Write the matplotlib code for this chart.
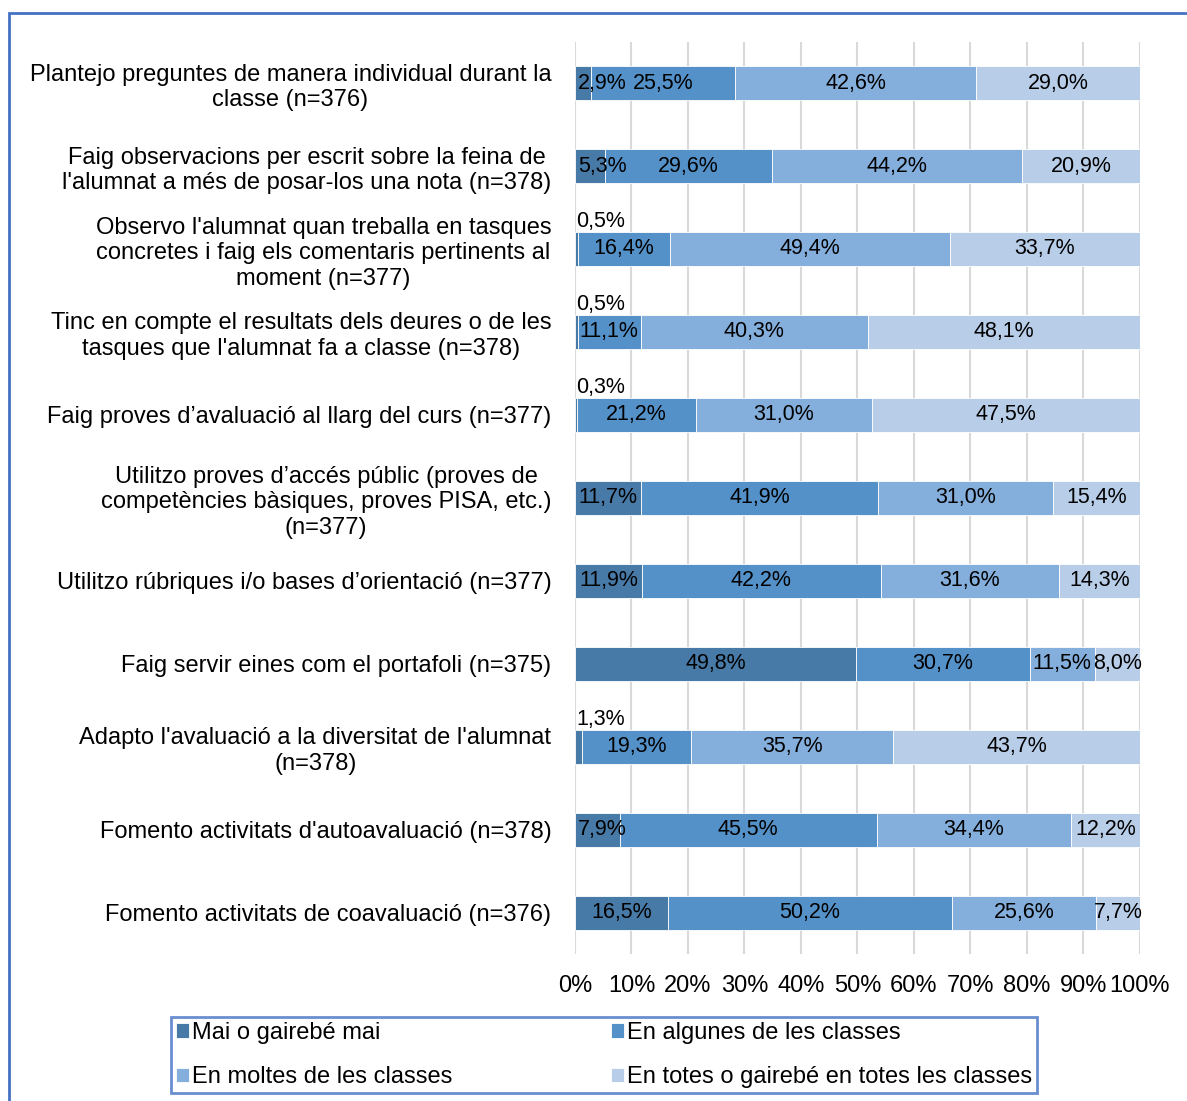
import matplotlib.pyplot as plt
from matplotlib.patches import Rectangle
import numpy as np

plt.rcParams['font.family'] = ['Liberation Sans', 'DejaVu Sans']

# categories (top to bottom)
labels = [
    "Plantejo preguntes de manera individual durant la\nclasse (n=376)",
    "Faig observacions per escrit sobre la feina de\nl'alumnat a més de posar-los una nota (n=378)",
    "Observo l'alumnat quan treballa en tasques\nconcretes i faig els comentaris pertinents al\nmoment (n=377)",
    "Tinc en compte el resultats dels deures o de les\ntasques que l'alumnat fa a classe (n=378)",
    "Faig proves d’avaluació al llarg del curs (n=377)",
    "Utilitzo proves d’accés públic (proves de\ncompetències bàsiques, proves PISA, etc.)\n(n=377)",
    "Utilitzo rúbriques i/o bases d’orientació (n=377)",
    "Faig servir eines com el portafoli (n=375)",
    "Adapto l'avaluació a la diversitat de l'alumnat\n(n=378)",
    "Fomento activitats d'autoavaluació (n=378)",
    "Fomento activitats de coavaluació (n=376)",
]

series_names = ["Mai o gairebé mai", "En algunes de les classes",
                "En moltes de les classes", "En totes o gairebé en totes les classes"]

mai = [2.9, 5.3, 0.5, 0.5, 0.3, 11.7, 11.9, 49.8, 1.3, 7.9, 16.5]
algunes = [25.5, 29.6, 16.4, 11.1, 21.2, 41.9, 42.2, 30.7, 19.3, 45.5, 50.2]
moltes = [42.6, 44.2, 49.4, 40.3, 31.0, 31.0, 31.6, 11.5, 35.7, 34.4, 25.6]
totes = [29.0, 20.9, 33.7, 48.1, 47.5, 15.4, 14.3, 8.0, 43.7, 12.2, 7.7]

colors = ['#487AA8', '#5491C8', '#84AEDB', '#B8CDE8']

fs_text = 17
fs_val = 15.5

fig = plt.figure(figsize=(11.87, 11.01), dpi=100)
ax = fig.add_axes([0.4844, 0.1331, 0.476, 0.8292])

y = np.arange(len(labels))
data = [mai, algunes, moltes, totes]
left = np.zeros(len(labels))
bars = []
for vals, c, name in zip(data, colors, series_names):
    vals = np.array(vals)
    b = ax.barh(y, vals, left=left, height=0.41, color=c, edgecolor='white',
                linewidth=0.6, label=name, zorder=3)
    bars.append(b)
    for i, v in enumerate(vals):
        txt = f"{v:.1f}%".replace('.', ',')
        if v < 1.5:
            ax.text(4.5, i - 0.33, txt, ha='center', va='center', fontsize=fs_val,
                    color='black', zorder=4)
        else:
            cx = max(left[i] + v / 2, 4.8)
            ax.text(cx, i, txt, ha='center', va='center', fontsize=fs_val,
                    color='black', zorder=4)
    left = left + vals

ax.set_xlim(0, 100)
ax.set_ylim(len(labels) - 0.5, -0.5)
ax.set_xticks(np.arange(0, 101, 10))
ax.set_xticklabels([f"{t}%" for t in range(0, 101, 10)], fontsize=fs_text)
ax.set_yticks(y)
ax.set_yticklabels(labels, fontsize=fs_text, multialignment='center', linespacing=1.2)
ax.tick_params(axis='both', length=0)
ax.tick_params(axis='x', pad=15)
ax.tick_params(axis='y', pad=17)
ax.grid(axis='x', color='#D9D9D9', linewidth=1.5, zorder=0)
for s in ax.spines.values():
    s.set_visible(False)

handles = [bars[0], bars[2], bars[1], bars[3]]
names = [series_names[0], series_names[2], series_names[1], series_names[3]]
leg = fig.legend(handles, names, ncol=2, loc='center',
                 bbox_to_anchor=(604 / 1187, 1 - 1055 / 1101),
                 fontsize=fs_text, frameon=True, fancybox=False,
                 handlelength=0.55, handleheight=0.55, handletextpad=0.15,
                 columnspacing=6.7, labelspacing=0.95, borderpad=0.2,
                 borderaxespad=0)
leg.get_frame().set_edgecolor('#4472C4')
leg.get_frame().set_linewidth(2)

# outer chart border (left and top visible)
fig.patches.append(Rectangle((9 / 1187, -0.05), 1.2, 1 - 13 / 1101 + 0.05,
                             transform=fig.transFigure, fill=False,
                             edgecolor='#4472C4', linewidth=2))

fig.savefig('out.png', dpi=100)
